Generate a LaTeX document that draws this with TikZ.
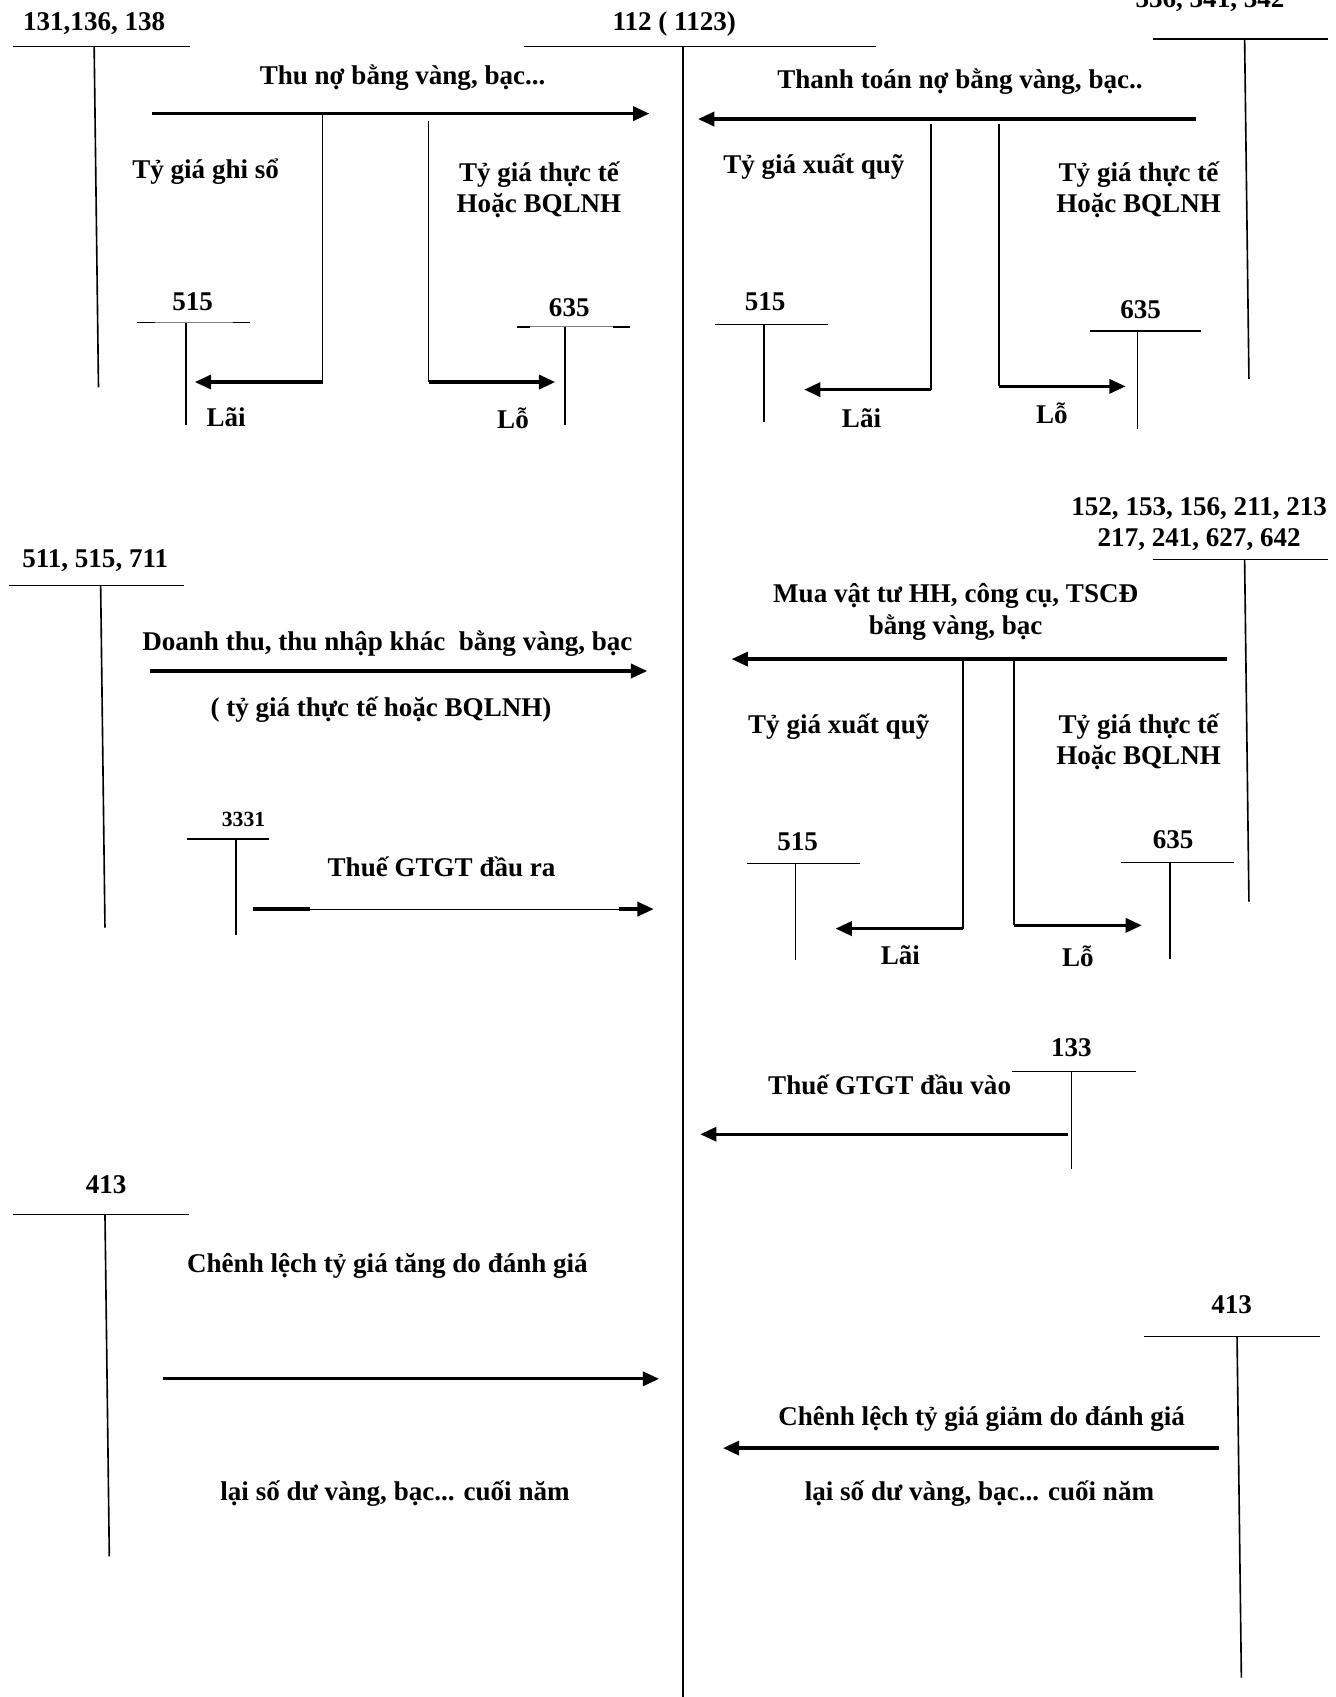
\documentclass[tikz,border=0pt]{standalone}
\usepackage{fontspec}
\setmainfont{Liberation Serif}
\usetikzlibrary{arrows.meta}
\begin{document}
\begin{tikzpicture}[x=0.5pt,y=-0.5pt,
  lbl/.style={font=\fontsize{12.5}{14}\selectfont\bfseries, inner sep=0pt, anchor=base},
  small/.style={font=\fontsize{10}{12}\selectfont\bfseries, inner sep=0pt, anchor=base},
  tacc/.style={line width=0.75pt},
  mainline/.style={line width=1pt},
  flow/.style={line width=1.5pt},
  thinflow/.style={line width=0.5pt},
  flowarrow/.style={line width=1.5pt, -{Triangle[length=7.5pt,width=6.5pt]}}
]
\useasboundingbox (0,0) rectangle (1234,1568);
% ---------- T-accounts: headings ----------
\node[lbl] (t131) at (87,28) {131,136, 138};
\node[lbl] (t112) at (623,28) {112 ( 1123)};
\node[lbl] (t336) at (1118,6.5) {336, 341, 342};
% T-account lines
\coordinate (a131l) at (12,43); \coordinate (a131r) at (176,43);
\coordinate (a131t) at (87,43); \coordinate (a131b) at (91,358);
\draw[tacc] (a131l) -- (a131r); \draw[tacc] (a131t) -- (a131b);
\coordinate (a112l) at (484,43); \coordinate (a112r) at (809,43);
\coordinate (a112t) at (631,43); \coordinate (a112b) at (631,1568);
\draw[tacc] (a112l) -- (a112r); \draw[mainline] (a112t) -- (a112b);
\coordinate (a336l) at (1065,36); \coordinate (a336r) at (1227,36);
\coordinate (a336t) at (1150,36); \coordinate (a336b) at (1154,350);
\draw[tacc] (a336l) -- (a336r); \draw[tacc] (a336t) -- (a336b);

% ---------- Section 1 left ----------
\node[lbl] (thuno) at (372,78) {Thu nợ bằng vàng, bạc...};
\coordinate (s1s) at (140,105); \coordinate (s1e) at (600,105);
\draw[flowarrow] (s1s) -- (s1e);
\coordinate (s1ba) at (298,105); \coordinate (s1bb) at (298,353); \coordinate (s1bc) at (180,353);
\draw[line width=0.75pt] (s1ba) -- (s1bb);
\draw[flowarrow] (s1bb) -- (s1bc);
\coordinate (s1ca) at (396,112); \coordinate (s1cb) at (396,353); \coordinate (s1cc) at (513,353);
\draw[line width=0.75pt] (s1ca) -- (s1cb);
\draw[flowarrow] (s1cb) -- (s1cc);
\node[lbl] (ghiso) at (190,165) {Tỷ giá ghi sổ};
\node[lbl] (tt1a) at (498,168) {Tỷ giá thực tế};
\node[lbl] (tt1b) at (498,196) {Hoặc BQLNH};
\node[lbl] (n515a) at (178,287) {515};
\coordinate (b515al) at (127,298); \coordinate (b515ar) at (231,298);
\coordinate (b515at) at (172,298); \coordinate (b515ab) at (172,393);
\draw[line width=0.4pt,gray] (b515al) -- (b515ar);
\draw[tacc] (127,298) -- (143,298); \draw[tacc] (215,298) -- (231,298);
\draw[tacc] (b515at) -- (b515ab);
\node[lbl] (lai1) at (209,394) {Lãi};
\node[lbl] (n635a) at (526,292) {635};
\coordinate (b635al) at (478,302); \coordinate (b635ar) at (582,302);
\coordinate (b635at) at (522,302); \coordinate (b635ab) at (522,393);
\draw[line width=0.4pt,gray] (b635al) -- (b635ar);
\draw[tacc] (478,302) -- (490,302); \draw[tacc] (566,302) -- (582,302);
\draw[tacc] (b635at) -- (b635ab);
\node[lbl] (lo1) at (474,396) {Lỗ};

% ---------- Section 1 right ----------
\node[lbl] (thanhtoan) at (887,82) {Thanh toán nợ bằng vàng, bạc..};
\coordinate (r1s) at (1105,110); \coordinate (r1e) at (645,110);
\draw[flowarrow] (r1s) -- (r1e);
\coordinate (r1ba) at (860,115); \coordinate (r1bb) at (860,360); \coordinate (r1bc) at (743,360);
\draw[line width=0.75pt] (r1ba) -- (r1bb);
\draw[flowarrow] (r1bb) -- (r1bc);
\coordinate (r1ca) at (923,115); \coordinate (r1cb) at (923,357); \coordinate (r1cc) at (1040,357);
\draw[line width=0.75pt] (r1ca) -- (r1cb);
\draw[flowarrow] (r1cb) -- (r1cc);
\node[lbl] (xq1) at (752,160) {Tỷ giá xuất quỹ};
\node[lbl] (tt2a) at (1052,168) {Tỷ giá thực tế};
\node[lbl] (tt2b) at (1052,196) {Hoặc BQLNH};
\node[lbl] (n515b) at (707,287) {515};
\coordinate (b515bl) at (661,300); \coordinate (b515br) at (765,300);
\coordinate (b515bt) at (706,300); \coordinate (b515bb) at (706,390);
\draw[tacc] (b515bl) -- (b515br); \draw[tacc] (b515bt) -- (b515bb);
\node[lbl] (lai2) at (796,395) {Lãi};
\node[lbl] (n635b) at (1054,294) {635};
\coordinate (b635bl) at (1007,306); \coordinate (b635br) at (1110,306);
\coordinate (b635bt) at (1051,306); \coordinate (b635bb) at (1051,396);
\draw[tacc] (b635bl) -- (b635br); \draw[tacc] (b635bt) -- (b635bb);
\node[lbl] (lo2) at (972,391) {Lỗ};

% ---------- Section 2 left ----------
\node[lbl] (t511) at (88,524) {511, 515, 711};
\coordinate (a511l) at (8,541); \coordinate (a511r) at (170,541);
\coordinate (a511t) at (93,541); \coordinate (a511b) at (97,857);
\draw[tacc] (a511l) -- (a511r); \draw[tacc] (a511t) -- (a511b);
\node[lbl] (doanhthu) at (358,601) {Doanh thu, thu nhập khác\ \ bằng vàng, bạc};
\coordinate (s2s) at (139,620); \coordinate (s2e) at (598,620);
\draw[flowarrow] (s2s) -- (s2e);
\node[lbl] (tygia2) at (352,662) {( tỷ giá thực tế hoặc BQLNH)};
\node[small] (t3331) at (225,764) {3331};
\coordinate (a3331l) at (173,775); \coordinate (a3331r) at (249,775);
\coordinate (a3331t) at (218,775); \coordinate (a3331b) at (218,864);
\draw[tacc] (a3331l) -- (a3331r); \draw[tacc] (a3331t) -- (a3331b);
\node[lbl] (gtgtra) at (408,810) {Thuế GTGT đầu ra};
\coordinate (s3s) at (234,840); \coordinate (s3m1) at (286,840);
\coordinate (s3m2) at (572,840); \coordinate (s3e) at (604,840);
\draw[flow] (s3s) -- (s3m1);
\draw[thinflow] (s3m1) -- (s3m2);
\draw[flowarrow] (s3m2) -- (s3e);

% ---------- Section 2 right ----------
\node[lbl] (t152a) at (1108,476) {152, 153, 156, 211, 213};
\node[lbl] (t152b) at (1108,505) {217, 241, 627, 642};
\coordinate (a152l) at (1065,517); \coordinate (a152r) at (1227,517);
\coordinate (a152t) at (1150,517); \coordinate (a152b) at (1154,833);
\draw[tacc] (a152l) -- (a152r); \draw[tacc] (a152t) -- (a152b);
\node[lbl] (mua1) at (883,557) {Mua vật tư HH, công cụ, TSCĐ};
\node[lbl] (mua2) at (883,586) {bằng vàng, bạc};
\coordinate (r2s) at (1134,609); \coordinate (r2e) at (676,609);
\draw[flowarrow] (r2s) -- (r2e);
\coordinate (r2ba) at (890,610); \coordinate (r2bb) at (890,858); \coordinate (r2bc) at (772,858);
\draw[line width=0.75pt] (r2ba) -- (r2bb);
\draw[flowarrow] (r2bb) -- (r2bc);
\coordinate (r2ca) at (937,610); \coordinate (r2cb) at (937,855); \coordinate (r2cc) at (1055,855);
\draw[line width=0.75pt] (r2ca) -- (r2cb);
\draw[flowarrow] (r2cb) -- (r2cc);
\node[lbl] (xq2) at (775,678) {Tỷ giá xuất quỹ};
\node[lbl] (tt3a) at (1052,678) {Tỷ giá thực tế};
\node[lbl] (tt3b) at (1052,706) {Hoặc BQLNH};
\node[lbl] (n515c) at (737,786) {515};
\coordinate (b515cl) at (690,798); \coordinate (b515cr) at (795,798);
\coordinate (b515ct) at (735,798); \coordinate (b515cb) at (735,887);
\draw[tacc] (b515cl) -- (b515cr); \draw[tacc] (b515ct) -- (b515cb);
\node[lbl] (lai3) at (832,891) {Lãi};
\node[lbl] (n635c) at (1084,784) {635};
\coordinate (b635cl) at (1036,797); \coordinate (b635cr) at (1140,797);
\coordinate (b635ct) at (1081,797); \coordinate (b635cb) at (1081,886);
\draw[tacc] (b635cl) -- (b635cr); \draw[tacc] (b635ct) -- (b635cb);
\node[lbl] (lo3) at (996,893) {Lỗ};

% ---------- Section 3 ----------
\node[lbl] (t133) at (990,976) {133};
\coordinate (a133l) at (935,990); \coordinate (a133r) at (1050,990);
\coordinate (a133t) at (990,990); \coordinate (a133b) at (990,1080);
\draw[tacc] (a133l) -- (a133r); \draw[tacc] (a133t) -- (a133b);
\node[lbl] (gtgtvao) at (822,1011) {Thuế GTGT đầu vào};
\coordinate (r3s) at (987,1048); \coordinate (r3e) at (647,1048);
\draw[flowarrow] (r3s) -- (r3e);

% ---------- Section 4 ----------
\node[lbl] (t413a) at (98,1103) {413};
\coordinate (a413al) at (12,1122); \coordinate (a413ar) at (175,1122);
\coordinate (a413at) at (97,1122); \coordinate (a413ab) at (101,1438);
\draw[tacc] (a413al) -- (a413ar); \draw[tacc] (a413at) -- (a413ab);
\node[lbl] (cltang) at (358,1176) {Chênh lệch tỷ giá tăng do đánh giá};
\coordinate (s4s) at (151,1274); \coordinate (s4e) at (609,1274);
\draw[flowarrow] (s4s) -- (s4e);
\node[lbl] (laiso1) at (365,1386) {lại số dư vàng, bạc... cuối năm};

\node[lbl] (t413b) at (1138,1214) {413};
\coordinate (a413bl) at (1057,1235); \coordinate (a413br) at (1220,1235);
\coordinate (a413bt) at (1143,1235); \coordinate (a413bb) at (1147,1550);
\draw[tacc] (a413bl) -- (a413br); \draw[tacc] (a413bt) -- (a413bb);
\node[lbl] (clgiam) at (907,1317) {Chênh lệch tỷ giá giảm do đánh giá};
\coordinate (r4s) at (1126,1338); \coordinate (r4e) at (668,1338);
\draw[flowarrow] (r4s) -- (r4e);
\node[lbl] (laiso2) at (905,1386) {lại số dư vàng, bạc... cuối năm};
\end{tikzpicture}
\end{document}
